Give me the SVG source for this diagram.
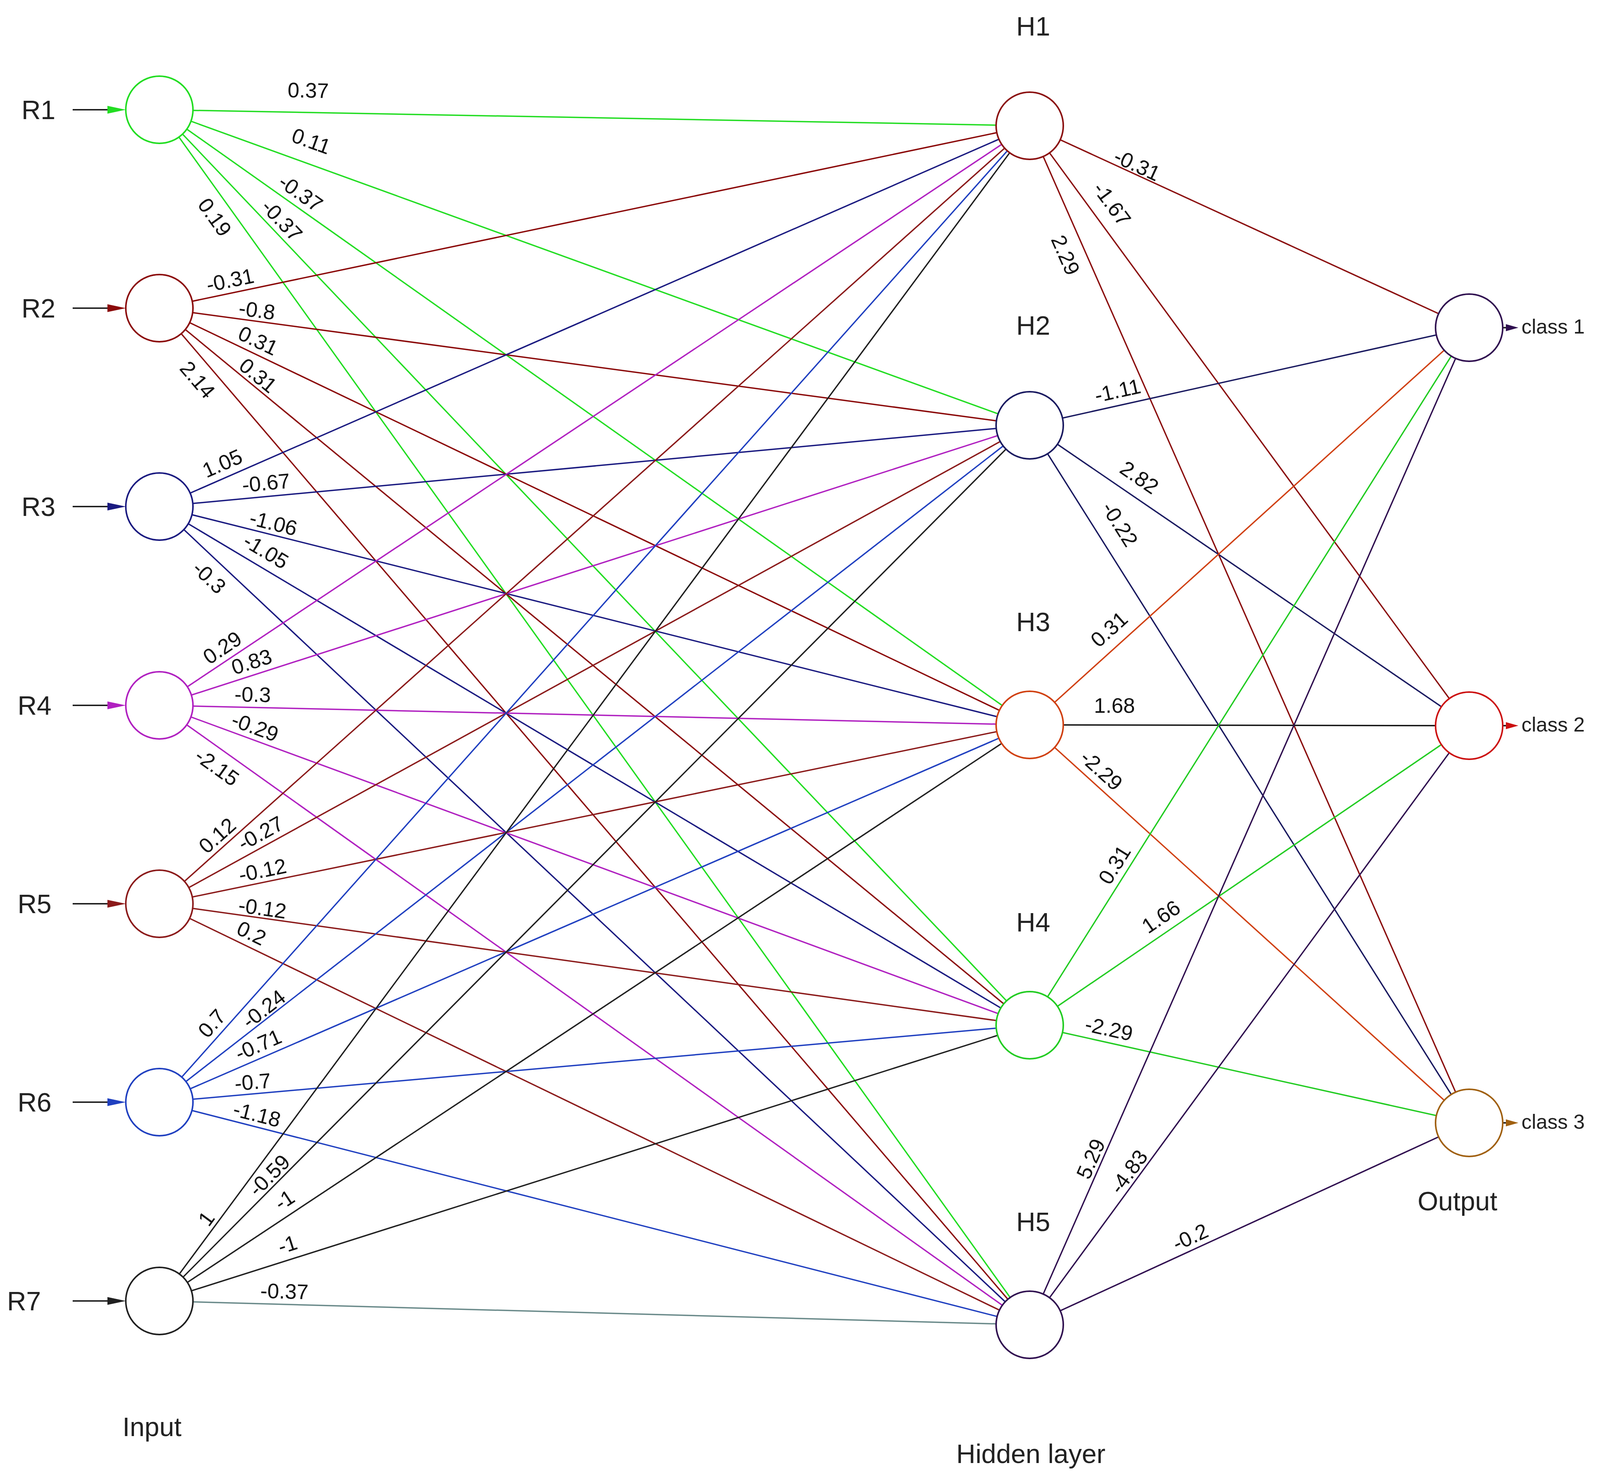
<svg xmlns="http://www.w3.org/2000/svg" width="4334" height="3792" viewBox="0 0 4334 3792">
<style>
.w{font-family:"Liberation Sans",Arial,sans-serif;font-size:54px;text-anchor:middle;dominant-baseline:central;fill:#111}
.n{font-family:"Liberation Sans",Arial,sans-serif;font-size:68px;fill:#222;dominant-baseline:central}
.k{font-family:"Liberation Sans",Arial,sans-serif;font-size:52px;fill:#222;dominant-baseline:central}
.c{fill:#fff;stroke-width:4}
#edges line{stroke-width:3.5}
</style>
<rect width="4334" height="3792" fill="#fff"/>
<g id="edges">
<g stroke="#22dd22"><line x1="408" y1="281" x2="2636" y2="322"/><line x1="408" y1="281" x2="2636" y2="1089"/><line x1="408" y1="281" x2="2636" y2="1856"/><line x1="408" y1="281" x2="2636" y2="2625"/><line x1="408" y1="281" x2="2636" y2="3392"/></g>
<g stroke="#8b0a0a"><line x1="408" y1="789" x2="2636" y2="322"/><line x1="408" y1="789" x2="2636" y2="1089"/><line x1="408" y1="789" x2="2636" y2="1856"/><line x1="408" y1="789" x2="2636" y2="2625"/><line x1="408" y1="789" x2="2636" y2="3392"/></g>
<g stroke="#1a1a80"><line x1="408" y1="1297" x2="2636" y2="322"/><line x1="408" y1="1297" x2="2636" y2="1089"/><line x1="408" y1="1297" x2="2636" y2="1856"/><line x1="408" y1="1297" x2="2636" y2="2625"/><line x1="408" y1="1297" x2="2636" y2="3392"/></g>
<g stroke="#b020c0"><line x1="408" y1="1806" x2="2636" y2="322"/><line x1="408" y1="1806" x2="2636" y2="1089"/><line x1="408" y1="1806" x2="2636" y2="1856"/><line x1="408" y1="1806" x2="2636" y2="2625"/><line x1="408" y1="1806" x2="2636" y2="3392"/></g>
<g stroke="#8b1a1a"><line x1="408" y1="2314" x2="2636" y2="322"/><line x1="408" y1="2314" x2="2636" y2="1089"/><line x1="408" y1="2314" x2="2636" y2="1856"/><line x1="408" y1="2314" x2="2636" y2="2625"/><line x1="408" y1="2314" x2="2636" y2="3392"/></g>
<g stroke="#2040c0"><line x1="408" y1="2822" x2="2636" y2="322"/><line x1="408" y1="2822" x2="2636" y2="1089"/><line x1="408" y1="2822" x2="2636" y2="1856"/><line x1="408" y1="2822" x2="2636" y2="2625"/><line x1="408" y1="2822" x2="2636" y2="3392"/></g>
<g stroke="#202020"><line x1="408" y1="3331" x2="2636" y2="322"/><line x1="408" y1="3331" x2="2636" y2="1089"/><line x1="408" y1="3331" x2="2636" y2="1856"/><line x1="408" y1="3331" x2="2636" y2="2625"/><line x1="408" y1="3331" x2="2636" y2="3392" stroke="#6a8a8a"/></g>
<g stroke="#8b1010"><line x1="2636" y1="322" x2="3761" y2="839"/><line x1="2636" y1="322" x2="3761" y2="1858"/><line x1="2636" y1="322" x2="3761" y2="2875"/></g>
<g stroke="#1a1a60"><line x1="2636" y1="1089" x2="3761" y2="839"/><line x1="2636" y1="1089" x2="3761" y2="1858"/><line x1="2636" y1="1089" x2="3761" y2="2875"/></g>
<g stroke="#d04010"><line x1="2636" y1="1856" x2="3761" y2="839"/><line x1="2636" y1="1856" x2="3761" y2="1858" stroke="#111"/><line x1="2636" y1="1856" x2="3761" y2="2875"/></g>
<g stroke="#22cc22"><line x1="2636" y1="2625" x2="3761" y2="839"/><line x1="2636" y1="2625" x2="3761" y2="1858"/><line x1="2636" y1="2625" x2="3761" y2="2875"/></g>
<g stroke="#301050"><line x1="2636" y1="3392" x2="3761" y2="839"/><line x1="2636" y1="3392" x2="3761" y2="1858"/><line x1="2636" y1="3392" x2="3761" y2="2875"/></g>
<g stroke-width="4">
<line x1="186" y1="281" x2="290" y2="281" stroke="#111"/><polygon points="275,271 322,281 275,291" fill="#22dd22"/>
<line x1="186" y1="789" x2="290" y2="789" stroke="#111"/><polygon points="275,779 322,789 275,799" fill="#8b0a0a"/>
<line x1="186" y1="1297" x2="290" y2="1297" stroke="#111"/><polygon points="275,1287 322,1297 275,1307" fill="#1a1a80"/>
<line x1="186" y1="1806" x2="290" y2="1806" stroke="#111"/><polygon points="275,1796 322,1806 275,1816" fill="#b020c0"/>
<line x1="186" y1="2314" x2="290" y2="2314" stroke="#111"/><polygon points="275,2304 322,2314 275,2324" fill="#8b1a1a"/>
<line x1="186" y1="2822" x2="290" y2="2822" stroke="#111"/><polygon points="275,2812 322,2822 275,2832" fill="#2040c0"/>
<line x1="186" y1="3331" x2="290" y2="3331" stroke="#111"/><polygon points="275,3321 322,3331 275,3341" fill="#202020"/>
<line x1="3847" y1="839" x2="3862" y2="839" stroke="#111"/><polygon points="3855,830 3887,839 3855,848" fill="#301050"/>
<line x1="3847" y1="1858" x2="3862" y2="1858" stroke="#111"/><polygon points="3855,1849 3887,1858 3855,1867" fill="#cc1010"/>
<line x1="3847" y1="2875" x2="3862" y2="2875" stroke="#111"/><polygon points="3855,2866 3887,2875 3855,2884" fill="#a06010"/>
</g>
</g>
<g id="R1"><circle class="c" cx="408" cy="281" r="86" stroke="#22dd22"/><text class="n" x="55" y="281">R1</text></g>
<g id="R2"><circle class="c" cx="408" cy="789" r="86" stroke="#8b0a0a"/><text class="n" x="55" y="789">R2</text></g>
<g id="R3"><circle class="c" cx="408" cy="1297" r="86" stroke="#1a1a80"/><text class="n" x="55" y="1297">R3</text></g>
<g id="R4"><circle class="c" cx="408" cy="1806" r="86" stroke="#b020c0"/><text class="n" x="45" y="1806">R4</text></g>
<g id="R5"><circle class="c" cx="408" cy="2314" r="86" stroke="#8b1a1a"/><text class="n" x="45" y="2314">R5</text></g>
<g id="R6"><circle class="c" cx="408" cy="2822" r="86" stroke="#2040c0"/><text class="n" x="45" y="2822">R6</text></g>
<g id="R7"><circle class="c" cx="408" cy="3331" r="86" stroke="#202020"/><text class="n" x="18" y="3331">R7</text></g>
<g id="H1"><circle class="c" cx="2636" cy="322" r="86" stroke="#8b1010"/><text class="n" x="2645" y="67" text-anchor="middle">H1</text></g>
<g id="H2"><circle class="c" cx="2636" cy="1089" r="86" stroke="#1a1a60"/><text class="n" x="2645" y="833" text-anchor="middle">H2</text></g>
<g id="H3"><circle class="c" cx="2636" cy="1856" r="86" stroke="#d04010"/><text class="n" x="2645" y="1592" text-anchor="middle">H3</text></g>
<g id="H4"><circle class="c" cx="2636" cy="2625" r="86" stroke="#22cc22"/><text class="n" x="2645" y="2361" text-anchor="middle">H4</text></g>
<g id="H5"><circle class="c" cx="2636" cy="3392" r="86" stroke="#301050"/><text class="n" x="2645" y="3128" text-anchor="middle">H5</text></g>
<g id="O1"><circle class="c" cx="3761" cy="839" r="86" stroke="#301050"/><text class="k" x="3895" y="836">class 1</text></g>
<g id="O2"><circle class="c" cx="3761" cy="1858" r="86" stroke="#cc1010"/><text class="k" x="3895" y="1855">class 2</text></g>
<g id="O3"><circle class="c" cx="3761" cy="2875" r="86" stroke="#a06010"/><text class="k" x="3895" y="2872">class 3</text></g>
<g id="captions">
<text class="n" x="389" y="3653" text-anchor="middle">Input</text>
<text class="n" x="2639" y="3722" text-anchor="middle">Hidden  layer</text>
<text class="n" x="3731" y="3075" text-anchor="middle">Output</text>
</g>
<g id="weights">
<text class="w" transform="translate(789,231) rotate(1.1)">0.37</text>
<text class="w" transform="translate(797,361) rotate(19.9)">0.11</text>
<text class="w" transform="translate(770,494) rotate(35.3)">-0.37</text>
<text class="w" transform="translate(722,564) rotate(46.5)">-0.37</text>
<text class="w" transform="translate(550,556) rotate(54.4)">0.19</text>
<text class="w" transform="translate(589,717) rotate(-11.8)">-0.31</text>
<text class="w" transform="translate(658,794) rotate(7.7)">-0.8</text>
<text class="w" transform="translate(661,872) rotate(25.6)">0.31</text>
<text class="w" transform="translate(661,961) rotate(39.5)">0.31</text>
<text class="w" transform="translate(506,972) rotate(49.4)">2.14</text>
<text class="w" transform="translate(569,1186) rotate(-23.6)">1.05</text>
<text class="w" transform="translate(681,1236) rotate(-5.3)">-0.67</text>
<text class="w" transform="translate(700,1339) rotate(14.1)">-1.06</text>
<text class="w" transform="translate(681,1411) rotate(30.8)">-1.05</text>
<text class="w" transform="translate(536,1478) rotate(43.2)">-0.3</text>
<text class="w" transform="translate(569,1658) rotate(-33.7)">0.29</text>
<text class="w" transform="translate(644,1694) rotate(-17.8)">0.83</text>
<text class="w" transform="translate(647,1778) rotate(1.3)">-0.3</text>
<text class="w" transform="translate(653,1861) rotate(20.2)">-0.29</text>
<text class="w" transform="translate(556,1964) rotate(35.5)">-2.15</text>
<text class="w" transform="translate(556,2139) rotate(-41.8)">0.12</text>
<text class="w" transform="translate(667,2133) rotate(-28.8)">-0.27</text>
<text class="w" transform="translate(672,2228) rotate(-11.6)">-0.12</text>
<text class="w" transform="translate(672,2325) rotate(7.9)">-0.12</text>
<text class="w" transform="translate(644,2389) rotate(25.8)">0.2</text>
<text class="w" transform="translate(542,2620) rotate(-48.3)">0.7</text>
<text class="w" transform="translate(675,2583) rotate(-37.9)">-0.24</text>
<text class="w" transform="translate(661,2675) rotate(-23.5)">-0.71</text>
<text class="w" transform="translate(647,2770) rotate(-5.1)">-0.7</text>
<text class="w" transform="translate(658,2853) rotate(14.3)">-1.18</text>
<text class="w" transform="translate(528,3120) rotate(-53.5)">1</text>
<text class="w" transform="translate(689,3009) rotate(-45.2)">-0.59</text>
<text class="w" transform="translate(728,3072) rotate(-33.5)">-1</text>
<text class="w" transform="translate(736,3186) rotate(-17.6)">-1</text>
<text class="w" transform="translate(728,3306) rotate(1.6)">-0.37</text>
<text class="w" transform="translate(2911,422) rotate(24.7)">-0.31</text>
<text class="w" transform="translate(2847,522) rotate(53.8)">-1.67</text>
<text class="w" transform="translate(2728,653) rotate(66.2)">2.29</text>
<text class="w" transform="translate(2861,1000) rotate(-12.5)">-1.11</text>
<text class="w" transform="translate(2917,1222) rotate(34.4)">2.82</text>
<text class="w" transform="translate(2867,1342) rotate(57.8)">-0.22</text>
<text class="w" transform="translate(2839,1611) rotate(-42.1)">0.31</text>
<text class="w" transform="translate(2853,1806)">1.68</text>
<text class="w" transform="translate(2820,1972) rotate(42.2)">-2.29</text>
<text class="w" transform="translate(2853,2214) rotate(-57.8)">0.31</text>
<text class="w" transform="translate(2972,2347) rotate(-34.3)">1.66</text>
<text class="w" transform="translate(2839,2634) rotate(12.5)">-2.29</text>
<text class="w" transform="translate(2792,2967) rotate(-66.2)">5.29</text>
<text class="w" transform="translate(2889,3000) rotate(-53.7)">-4.83</text>
<text class="w" transform="translate(3047,3167) rotate(-24.7)">-0.2</text>
</g>
</svg>
